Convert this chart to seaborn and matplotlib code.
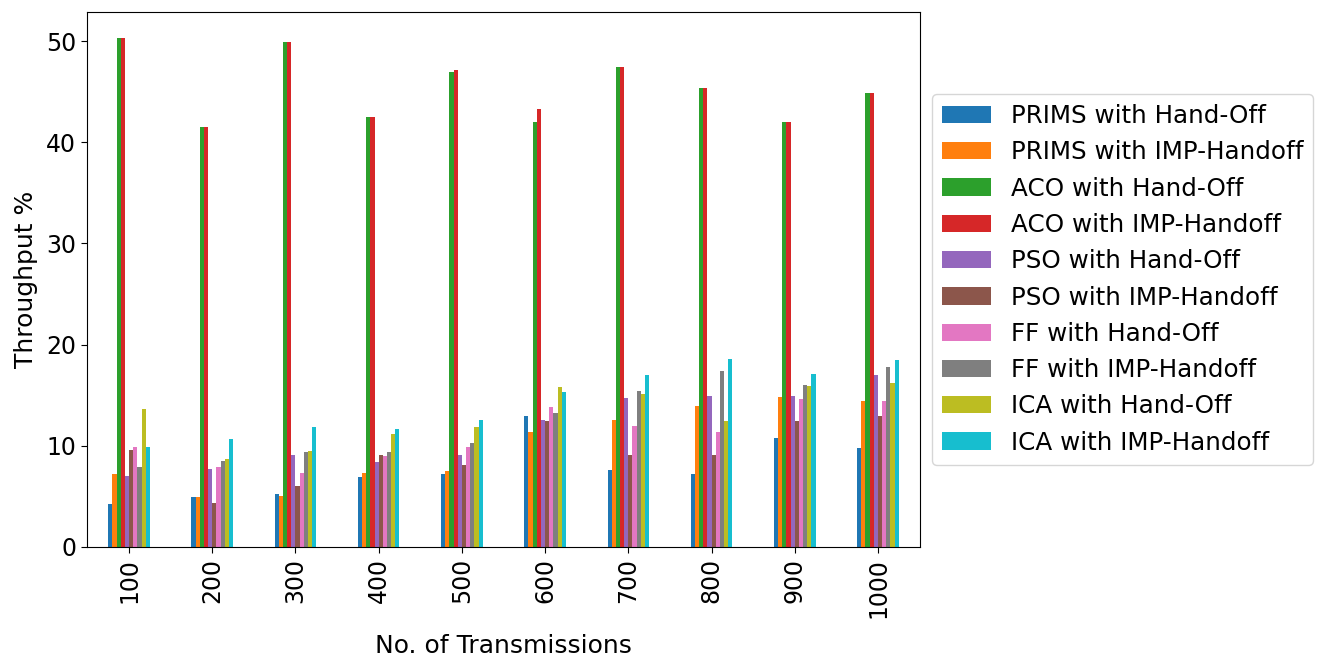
import numpy as np
import pandas as pd
import matplotlib
matplotlib.use("Agg")
import matplotlib.pyplot as plt
import seaborn as sns

categories = ["100", "200", "300", "400", "500", "600", "700", "800", "900", "1000"]
series_names = ["PRIMS with Hand-Off", "PRIMS with IMP-Handoff", "ACO with Hand-Off",
                "ACO with IMP-Handoff", "PSO with Hand-Off", "PSO with IMP-Handoff",
                "FF with Hand-Off", "FF with IMP-Handoff", "ICA with Hand-Off",
                "ICA with IMP-Handoff"]

prims_handoff = [4.2, 4.9, 5.2, 6.9, 7.2, 12.9, 7.6, 7.2, 10.8, 9.8]
prims_imp = [7.2, 4.9, 5.0, 7.3, 7.5, 11.4, 12.5, 13.9, 14.8, 14.4]
aco_handoff = [50.3, 41.5, 49.9, 42.5, 47.0, 42.0, 47.5, 45.4, 42.0, 44.9]
aco_imp = [50.3, 41.5, 49.9, 42.5, 47.2, 43.3, 47.5, 45.4, 42.0, 44.9]
pso_handoff = [7.0, 7.7, 9.1, 8.4, 9.1, 12.5, 14.7, 14.9, 14.9, 17.0]
pso_imp = [9.6, 4.3, 6.0, 9.1, 8.1, 12.4, 9.1, 9.1, 12.4, 12.9]
ff_handoff = [9.9, 7.9, 7.3, 9.0, 9.9, 13.8, 11.9, 11.4, 14.6, 14.4]
ff_imp = [7.9, 8.5, 9.4, 9.4, 10.3, 13.2, 15.4, 17.4, 16.0, 17.8]
ica_handoff = [13.6, 8.7, 9.5, 11.2, 11.8, 15.8, 15.1, 12.4, 15.9, 16.2]
ica_imp = [9.9, 10.7, 11.8, 11.7, 12.5, 15.3, 17.0, 18.6, 17.1, 18.5]

series_values = [prims_handoff, prims_imp, aco_handoff, aco_imp, pso_handoff,
                 pso_imp, ff_handoff, ff_imp, ica_handoff, ica_imp]

rows = []
for name, vals in zip(series_names, series_values):
    for c, v in zip(categories, vals):
        rows.append({"Transmissions": c, "Series": name, "Throughput": v})
df = pd.DataFrame(rows)

plt.rcParams["font.family"] = ["DejaVu Sans"]
fig = plt.figure(figsize=(13.25, 6.62), dpi=100)
ax = fig.add_axes([0.066, 0.174, 0.628, 0.808])

sns.barplot(data=df, x="Transmissions", y="Throughput", hue="Series",
            order=categories, hue_order=series_names,
            palette=sns.color_palette("tab10", 10), saturation=1,
            width=0.5, gap=0, errorbar=None, ax=ax, linewidth=0)

ax.set_xlim(-0.5, 9.5)
ax.set_ylim(0, 52.9)
ax.set_yticks([0, 10, 20, 30, 40, 50])
ax.tick_params(axis="both", labelsize=17, length=4.5)
plt.setp(ax.get_xticklabels(), rotation=90)
ax.set_xlabel("No. of Transmissions", fontsize=18, labelpad=12)
ax.set_ylabel("Throughput %", fontsize=18, labelpad=6)
for s in ax.spines.values():
    s.set_visible(True)
    s.set_color("black")

ax.legend(loc="center left", bbox_to_anchor=(1.0, 0.5), fontsize=17.7,
          frameon=True)

fig.savefig("out.png", dpi=100)
